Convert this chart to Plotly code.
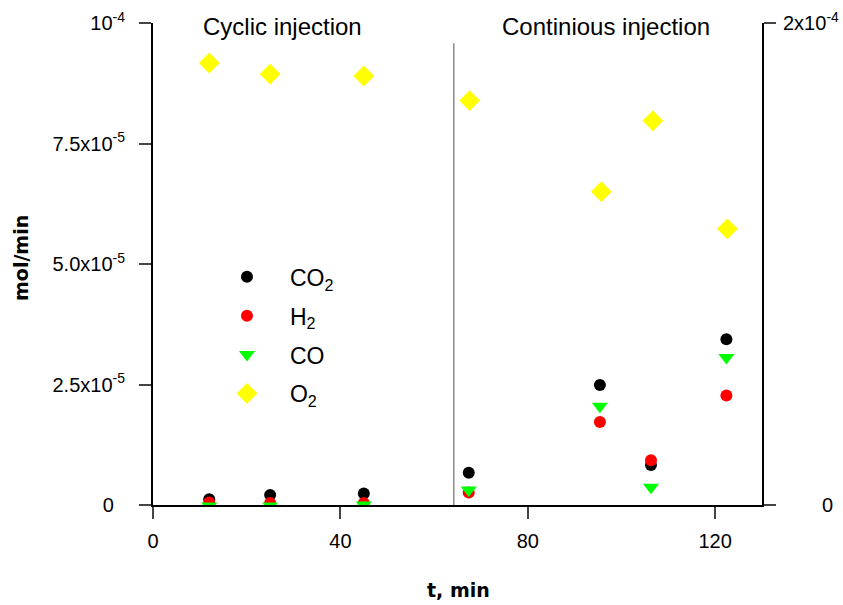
import plotly.graph_objects as go

# ---- data ----
t_cyc = [12, 25, 45]
t_con = [67.4, 95.4, 106.3, 122.4]
t_o2_con = [67.6, 95.7, 106.7, 122.6]

co2 = [1.2e-6, 2.1e-6, 2.4e-6, 6.7e-6, 2.49e-5, 8.3e-6, 3.44e-5]
h2 = [0.5e-6, 0.4e-6, 0.4e-6, 2.6e-6, 1.72e-5, 9.3e-6, 2.27e-5]
co = [-0.2e-6, -0.2e-6, 0.0, 3.1e-6, 2.05e-5, 3.7e-6, 3.06e-5]
o2 = [9.17e-5, 8.94e-5, 8.90e-5, 8.39e-5, 6.50e-5, 7.97e-5, 5.73e-5]

t_all = t_cyc + t_con
t_o2 = t_cyc + t_o2_con

left_tickvals = [0, 2.5e-5, 5.0e-5, 7.5e-5, 1e-4]
left_ticktext = ["0\u00a0\u00a0", "2.5x10<sup>-5</sup>", "5.0x10<sup>-5</sup>", "7.5x10<sup>-5</sup>", "10<sup>-4</sup>"]
right_tickvals = [0, 2e-4]
right_ticktext = ["\u00a0" * 7 + "0", "2x10<sup>-4</sup>"]
x_tickvals = [0, 40, 80, 120]

divider_x = 64.2
divider_top = 0.958e-4

FONT = "Arial, Liberation Sans, sans-serif"
BOLD_FONT = "DejaVu Sans, Verdana, sans-serif"

fig = go.Figure()
fig.add_trace(go.Scatter(x=t_all, y=co2, mode="markers", name="CO<sub>2</sub>",
                         marker=dict(symbol="circle", size=12, color="#000000"), legendgroup="a"))
fig.add_trace(go.Scatter(x=t_all, y=h2, mode="markers", name="H<sub>2</sub>",
                         marker=dict(symbol="circle", size=12, color="#ff0000"), legendgroup="b"))
fig.add_trace(go.Scatter(x=t_all, y=co, mode="markers", name="CO",
                         marker=dict(symbol="triangle-down", size=14, color="#00ff00"), legendgroup="c"))
fig.add_trace(go.Scatter(x=t_o2, y=o2, mode="markers", name="O<sub>2</sub>",
                         marker=dict(symbol="diamond", size=16, color="#ffff00"), legendgroup="d"))
fig.add_trace(go.Scatter(x=[None], y=[None], yaxis="y2", showlegend=False, hoverinfo="skip"))

fig.add_shape(type="line", x0=divider_x, x1=divider_x, y0=0, y1=divider_top,
              xref="x", yref="y", line=dict(color="#8c8c8c", width=1.5), layer="below")

fig.update_layout(
    width=843, height=605,
    margin=dict(l=153, r=81, t=23, b=100, autoexpand=False),
    paper_bgcolor="white", plot_bgcolor="white",
    font=dict(family=FONT, size=20, color="black"),
    showlegend=True,
    legend=dict(x=0.0837, y=0.518, xanchor="left", yanchor="top",
                bgcolor="rgba(0,0,0,0)", font=dict(size=23), itemwidth=76,
                traceorder="grouped", tracegroupgap=6),
    xaxis=dict(range=[0, 130], tickvals=x_tickvals, ticks="outside", ticklen=12, tickwidth=2,
               showline=True, linewidth=2, linecolor="black", showgrid=False, zeroline=False,
               tickfont=dict(size=20), ticklabelstandoff=5, automargin=False),
    yaxis=dict(range=[0, 1e-4], tickvals=left_tickvals, ticktext=left_ticktext,
               ticks="outside", ticklen=12, tickwidth=2,
               showline=True, linewidth=2, linecolor="black", showgrid=False, zeroline=False,
               tickfont=dict(size=20), ticklabelstandoff=10, automargin=False),
    yaxis2=dict(range=[0, 2e-4], overlaying="y", side="right", tickvals=right_tickvals,
                ticktext=right_ticktext, ticks="outside", ticklen=12, tickwidth=2,
                showline=True, linewidth=2, linecolor="black", showgrid=False, zeroline=False,
                tickfont=dict(size=20), ticklabelstandoff=3, automargin=False),
)

fig.add_annotation(text="Cyclic injection", x=27.6, xref="x", y=1, yref="paper",
                   xanchor="center", yanchor="middle", yshift=-3, showarrow=False, font=dict(size=24))
fig.add_annotation(text="Continious injection", x=96.6, xref="x", y=1, yref="paper",
                   xanchor="center", yanchor="middle", yshift=-3, showarrow=False, font=dict(size=24))
fig.add_annotation(text="<b>mol/min</b>", x=-0.218, xref="paper", y=0.513, yref="paper",
                   xanchor="center", yanchor="middle",
                   textangle=-90, showarrow=False, font=dict(size=19, family=BOLD_FONT))
fig.add_annotation(text="<b>t, min</b>", x=0.501, xref="paper", y=-0.176, yref="paper",
                   xanchor="center", yanchor="middle",
                   showarrow=False, font=dict(size=19, family=BOLD_FONT))

fig.write_html("out.html")
